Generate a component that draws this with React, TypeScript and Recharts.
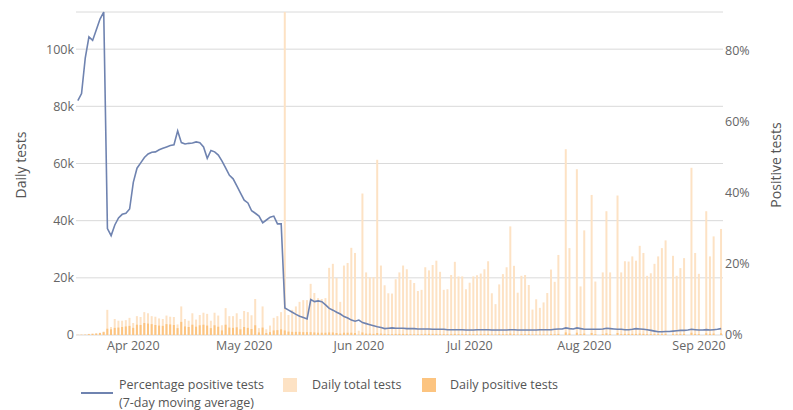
import React from "react";
import { ComposedChart, Bar, Line, XAxis, YAxis, CartesianGrid } from "recharts";

// one entry per day, starting 17 Mar 2020
const START_DAY = { year: 2020, month: 2, day: 17 };
const DAY_COUNT = 175;

const MONTH_NAMES = ["Jan", "Feb", "Mar", "Apr", "May", "Jun", "Jul", "Aug", "Sep", "Oct", "Nov", "Dec"];
const MONTH_TICKS = ["2020-04-01", "2020-05-01", "2020-06-01", "2020-07-01", "2020-08-01", "2020-09-01"];

const LEFT_TICKS = [0, 20, 40, 60, 80, 100];
const RIGHT_TICKS = [0, 20, 40, 60, 80];

// daily total tests, thousands
const totalTests = [
  0.1, 0.2, 0.2, 0.4, 0.5, 0.6, 0.8, 1.2, 8.8, 2.8,
  5.6, 5.0, 5.0, 5.2, 6.0, 4.2, 6.6, 6.3, 8.0, 7.6,
  6.6, 6.4, 5.8, 5.6, 6.8, 6.4, 6.3, 3.7, 10.0, 5.6,
  5.0, 7.6, 5.4, 7.0, 7.8, 7.4, 5.0, 7.8, 6.8, 3.4,
  9.4, 6.6, 6.6, 7.6, 5.6, 8.4, 8.0, 6.9, 12.6, 2.4,
  10.0, 2.0, 3.3, 6.0, 6.6, 8.0, 113.0, 7.0, 8.8, 10.0,
  11.6, 12.2, 12.2, 17.9, 14.7, 12.9, 12.6, 12.9, 23.5, 24.9,
  20.0, 11.6, 24.3, 25.2, 30.5, 28.7, 1.5, 49.5, 21.9, 20.2,
  20.2, 61.3, 24.3, 17.4, 14.6, 14.5, 19.5, 21.9, 24.3, 23.0,
  19.3, 18.2, 15.4, 15.8, 23.7, 22.6, 24.5, 26.0, 22.1, 15.8,
  16.0, 21.0, 25.6, 20.5, 20.5, 16.0, 18.3, 20.5, 20.9, 21.5,
  23.0, 25.8, 14.6, 10.8, 17.7, 21.3, 23.7, 38.0, 24.2, 14.8,
  20.7, 21.0, 17.5, 8.9, 12.5, 9.5, 11.4, 14.7, 22.9, 18.6,
  28.0, 0, 65.0, 30.4, 0, 58.0, 17.0, 36.6, 0, 49.0,
  18.7, 0, 21.9, 43.3, 21.9, 0, 48.8, 21.9, 25.8, 25.7,
  27.5, 26.0, 31.2, 28.7, 20.7, 21.6, 24.9, 27.5, 30.4, 33.1,
  0, 27.7, 20.7, 23.4, 26.9, 0, 58.5, 28.7, 21.4, 0,
  43.3, 27.5, 34.5, 0, 37.1,
];

// daily positive tests, thousands
const positiveTests = [
  0.05, 0.08, 0.1, 0.3, 0.4, 0.5, 0.7, 1.0, 2.2, 2.0,
  2.5, 2.6, 2.8, 3.0, 3.2, 2.5, 3.6, 3.5, 4.2, 4.0,
  3.8, 3.5, 3.3, 3.2, 3.8, 3.7, 3.5, 2.4, 4.6, 3.0,
  2.8, 3.6, 2.9, 3.4, 3.6, 3.3, 2.4, 3.4, 2.9, 1.6,
  3.6, 2.6, 2.5, 2.7, 2.0, 2.8, 2.5, 2.1, 3.4, 0.9,
  2.6, 0.7, 1.0, 1.6, 1.7, 2.0, 1.6, 1.2, 1.1, 1.1,
  1.1, 1.0, 1.0, 1.0, 0.9, 0.8, 0.8, 0.8, 0.9, 0.9,
  0.7, 0.5, 0.8, 0.8, 0.8, 0.7, 0.1, 0.9, 0.5, 0.5,
  0.4, 0.7, 0.5, 0.4, 0.3, 0.3, 0.4, 0.4, 0.4, 0.4,
  0.3, 0.3, 0.3, 0.3, 0.4, 0.4, 0.4, 0.4, 0.3, 0.3,
  0.3, 0.3, 0.4, 0.3, 0.3, 0.3, 0.3, 0.3, 0.3, 0.3,
  0.3, 0.4, 0.2, 0.2, 0.3, 0.3, 0.3, 0.5, 0.3, 0.2,
  0.3, 0.3, 0.3, 0.2, 0.2, 0.2, 0.2, 0.2, 0.3, 0.3,
  0.4, 0, 0.9, 0.5, 0, 0.8, 0.3, 0.5, 0, 0.7,
  0.3, 0, 0.3, 0.6, 0.3, 0, 0.7, 0.3, 0.4, 0.4,
  0.4, 0.4, 0.5, 0.4, 0.3, 0.3, 0.3, 0.3, 0.3, 0.4,
  0, 0.3, 0.3, 0.3, 0.4, 0, 0.8, 0.4, 0.3, 0,
  0.6, 0.4, 0.5, 0, 0.6,
];

// percentage positive, 7-day moving average
const pctPositive = [
  66, 68, 78, 84, 83, 86, 89, 91, 30, 28,
  31, 33, 34, 34.3, 35.5, 43, 47, 48.5, 50, 51,
  51.5, 51.6, 52.2, 52.6, 53, 53.4, 53.6, 57.5, 54.2, 53.8,
  54, 54.1, 54.4, 54.2, 53, 49.8, 52, 51.6, 50.7, 49,
  47, 45, 44, 42, 40, 38, 37.2, 35, 34.3, 33.5,
  31.6, 32.4, 33.2, 33.5, 31.3, 31.3, 7.6, 7, 6.4, 5.8,
  5.3, 4.9, 4.5, 10, 9.4, 9.6, 9.4, 8.5, 7.5, 7,
  6.4, 5.9, 5.2, 4.8, 4.2, 3.9, 4.2, 3.5, 3.2, 2.9,
  2.6, 2.3, 2.1, 1.8, 1.9, 2.0, 1.9, 1.9, 1.9, 1.8,
  1.8, 1.8, 1.7, 1.7, 1.7, 1.7, 1.6, 1.6, 1.6, 1.6,
  1.5, 1.5, 1.5, 1.5, 1.5, 1.4, 1.4, 1.4, 1.5, 1.5,
  1.5, 1.5, 1.4, 1.4, 1.4, 1.4, 1.4, 1.5, 1.5, 1.4,
  1.4, 1.4, 1.4, 1.4, 1.4, 1.5, 1.5, 1.5, 1.5, 1.6,
  1.7, 1.7, 2.0, 1.8, 1.7, 2.0, 1.8, 1.6, 1.6, 1.6,
  1.6, 1.6, 1.7, 1.9, 1.8, 1.7, 1.6, 1.6, 1.5, 1.5,
  1.6, 1.8, 1.7, 1.6, 1.5, 1.3, 1.1, 0.9, 0.9, 1.0,
  1.0, 1.1, 1.2, 1.3, 1.3, 1.4, 1.6, 1.5, 1.4, 1.4,
  1.5, 1.4, 1.5, 1.6, 1.8,
];

const PALE = "#fde2c4";
const DARK = "#fcc480";
const LINE = "#6f83b0";
const TEXT = "#666";
const FONT = "'Open Sans', sans-serif";

function dayKey(i: number) {
  const d = new Date(Date.UTC(START_DAY.year, START_DAY.month, START_DAY.day + i));
  return d.toISOString().slice(0, 10);
}

const data = Array.from({ length: DAY_COUNT }, (_, i) => ({
  date: dayKey(i),
  total: totalTests[i],
  positive: positiveTests[i],
  pct: pctPositive[i],
}));

const monthLabel = (v: string) => `${MONTH_NAMES[Number(v.slice(5, 7)) - 1]} ${v.slice(0, 4)}`;

export default function App() {
  return (
    <div style={{ position: "relative", width: 777, height: 402, fontFamily: FONT }}>
      <ComposedChart
        width={777}
        height={357}
        data={data}
        margin={{ top: 4, right: 0, bottom: 0, left: 0 }}
        barCategoryGap="20%"
      >
        <CartesianGrid vertical={false} stroke="#dadada" xAxisId="a" yAxisId="left" />
        <XAxis
          xAxisId="a"
          dataKey="date"
          ticks={MONTH_TICKS}
          interval={0}
          tickFormatter={monthLabel}
          axisLine={false}
          tickLine={false}
          tickSize={0}
          tickMargin={6}
          height={30}
          tick={{ fill: TEXT, fontSize: 12.5, fontFamily: FONT }}
        />
        <XAxis xAxisId="b" dataKey="date" hide />
        <YAxis
          yAxisId="left"
          width={68}
          domain={[0, "dataMax"]}
          ticks={LEFT_TICKS}
          tickFormatter={(v: number) => (v === 0 ? "0" : `${v}k`)}
          axisLine={false}
          tickLine={false}
          tickSize={0}
          tickMargin={2}
          tick={{ fill: TEXT, fontSize: 12.5, fontFamily: FONT }}
        />
        <YAxis
          yAxisId="right"
          orientation="right"
          width={62}
          domain={[0, "dataMax"]}
          ticks={RIGHT_TICKS}
          tickFormatter={(v: number) => `${v}%`}
          axisLine={false}
          tickLine={false}
          tickSize={0}
          tickMargin={2}
          tick={{ fill: TEXT, fontSize: 12.5, fontFamily: FONT }}
        />
        <Bar xAxisId="a" yAxisId="left" dataKey="total" fill={PALE} isAnimationActive={false} />
        <Bar xAxisId="b" yAxisId="left" dataKey="positive" fill={DARK} isAnimationActive={false} />
        <Line
          xAxisId="a"
          yAxisId="right"
          dataKey="pct"
          type="linear"
          stroke={LINE}
          strokeWidth={1.6}
          dot={false}
          isAnimationActive={false}
        />
      </ComposedChart>

      {/* axis titles */}
      <div style={{ position: "absolute", left: 12, top: 157, transform: "translate(-50%, -50%) rotate(-90deg)", whiteSpace: "nowrap", fontSize: 14, color: "#555" }}>
        Daily tests
      </div>
      <div style={{ position: "absolute", left: 767, top: 157, transform: "translate(-50%, -50%) rotate(-90deg)", whiteSpace: "nowrap", fontSize: 14, color: "#555" }}>
        Positive tests
      </div>

      {/* legend */}
      <div style={{ position: "absolute", left: 73, top: 384, width: 32, height: 2, background: LINE }} />
      <div style={{ position: "absolute", left: 111, top: 368, fontSize: 12.5, lineHeight: "18px", color: "#555", whiteSpace: "nowrap" }}>
        Percentage positive tests
        <br />
        (7-day moving average)
      </div>
      <div style={{ position: "absolute", left: 275, top: 370, width: 14, height: 14, background: PALE }} />
      <div style={{ position: "absolute", left: 304, top: 368, fontSize: 12.5, lineHeight: "18px", color: "#555" }}>
        Daily total tests
      </div>
      <div style={{ position: "absolute", left: 414, top: 370, width: 14, height: 14, background: DARK }} />
      <div style={{ position: "absolute", left: 442, top: 368, fontSize: 12.5, lineHeight: "18px", color: "#555" }}>
        Daily positive tests
      </div>
    </div>
  );
}
